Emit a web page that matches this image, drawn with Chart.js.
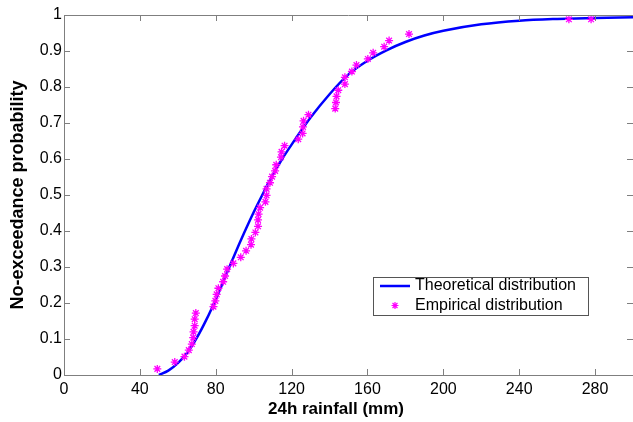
<!DOCTYPE html>
<html>
<head>
<meta charset="utf-8">
<script src="https://cdn.jsdelivr.net/npm/chart.js@4/dist/chart.umd.min.js"></script>
<style>
  html, body { margin: 0; padding: 0; background: #fff; }
</style>
</head>
<body>
<canvas id="cdf_chart" width="633" height="422"></canvas>
<script>
// fitted curve
const theory_x = [50, 55, 60, 65, 70, 75, 80, 85, 90, 95, 100, 105, 110, 115, 120, 130, 140, 150, 160, 170, 180, 190, 200, 220, 240, 260, 280, 300];
const theory_y = [0, 0.012, 0.033, 0.062, 0.103, 0.153, 0.21, 0.272, 0.335, 0.395, 0.452, 0.505, 0.555, 0.6, 0.64, 0.715, 0.78, 0.835, 0.873, 0.902, 0.925, 0.943, 0.956, 0.974, 0.984, 0.989, 0.992, 0.994];

// observed 24h maxima and their plotting positions
const empirical_x = [49.2, 58.4, 63.5, 65.8, 67.4, 68.1, 68.3, 68.9, 68.9, 69.5,
  78.8, 79.8, 80.5, 81.4, 83.9, 84.9, 86.0, 89.3, 93.2, 96.0,
  98.6, 98.8, 100.9, 102.3, 102.3, 102.6, 103.4, 106.2, 106.8, 106.8,
  108.6, 109.7, 111.3, 111.9, 114.4, 114.7, 116.3, 123.5, 125.8, 126.0,
  126.3, 128.9, 143.0, 143.4, 143.7, 144.6, 148.1, 148.1, 151.8, 154.2,
  160.2, 163.0, 168.8, 171.4, 181.9, 266.2, 277.9];
const empirical_y = [0.017, 0.036, 0.051, 0.069, 0.086, 0.104, 0.120, 0.137, 0.155, 0.172,
  0.190, 0.206, 0.224, 0.241, 0.259, 0.275, 0.294, 0.310, 0.327, 0.345,
  0.362, 0.378, 0.396, 0.413, 0.431, 0.447, 0.465, 0.481, 0.499, 0.517,
  0.534, 0.551, 0.567, 0.584, 0.605, 0.620, 0.637, 0.655, 0.671, 0.689,
  0.706, 0.723, 0.740, 0.757, 0.774, 0.791, 0.808, 0.827, 0.843, 0.861,
  0.878, 0.895, 0.912, 0.929, 0.947, 0.988, 0.988];

const x_ticks = [0, 40, 80, 120, 160, 200, 240, 280];
const y_ticks = [0, 0.1, 0.2, 0.3, 0.4, 0.5, 0.6, 0.7, 0.8, 0.9, 1];
const x_title = '24h rainfall (mm)';

const FONT = 'Liberation Sans, Arial, sans-serif';
const AXIS_GREY = '#7f7f7f';

// matlab style box: inward ticks on all four sides, x label, legend box
const matlabBox = {
  id: 'matlabBox',
  afterDatasetsDraw(chart) {
    const ctx = chart.ctx;
    const area = chart.chartArea;
    const xs = chart.scales.x, ys = chart.scales.y;
    const right = xs.getPixelForValue(300);
    ctx.save();
    ctx.strokeStyle = AXIS_GREY;
    ctx.lineWidth = 1;
    ctx.beginPath();
    ctx.moveTo(area.left, area.top + 0.5);
    ctx.lineTo(area.right, area.top + 0.5);
    x_ticks.forEach(v => {
      const px = Math.round(xs.getPixelForValue(v)) + 0.5;
      ctx.moveTo(px, area.bottom);
      ctx.lineTo(px, area.bottom - 6);
      ctx.moveTo(px, area.top);
      ctx.lineTo(px, area.top + 6);
    });
    y_ticks.forEach(v => {
      const py = Math.round(ys.getPixelForValue(v)) + 0.5;
      ctx.moveTo(area.left, py);
      ctx.lineTo(area.left + 6, py);
      ctx.moveTo(right, py);
      ctx.lineTo(right - 6, py);
    });
    ctx.stroke();

    // x label (sits a bit left of centre in the original)
    ctx.fillStyle = '#000';
    ctx.font = 'bold 17px ' + FONT;
    ctx.textAlign = 'center';
    ctx.textBaseline = 'middle';
    ctx.fillText(x_title, 336, 409);

    // legend
    const lx = 373.5, ly = 277.5, lw = 215, lh = 38;
    ctx.fillStyle = '#fff';
    ctx.fillRect(lx, ly, lw, lh);
    ctx.strokeStyle = '#555';
    ctx.strokeRect(lx, ly, lw, lh);
    const ds = chart.data.datasets;
    ctx.strokeStyle = ds[0].borderColor;
    ctx.lineWidth = ds[0].borderWidth;
    ctx.beginPath();
    ctx.moveTo(380, 286);
    ctx.lineTo(410, 286);
    ctx.stroke();
    ctx.strokeStyle = ds[1].borderColor;
    ctx.fillStyle = ds[1].borderColor;
    ctx.lineWidth = 1.2;
    Chart.helpers.drawPoint(ctx, { pointStyle: 'star', radius: 3.5, borderWidth: 1.2 }, 395, 305.5);
    ctx.fillStyle = '#000';
    ctx.font = '16px ' + FONT;
    ctx.textAlign = 'left';
    ctx.fillText(ds[0].label, 415, 286);
    ctx.fillText(ds[1].label, 415, 305.5);
    ctx.restore();
  }
};

const cdf_chart = document.getElementById('cdf_chart');

new Chart(cdf_chart, {
  type: 'line',
  data: {
    datasets: [{
      label: 'Theoretical distribution',
      data: theory_x.map((x, i) => ({ x: x, y: theory_y[i] })),
      borderColor: '#0000ff',
      borderWidth: 2.5,
      pointRadius: 0,
      fill: false,
      cubicInterpolationMode: 'monotone',
      order: 1
    }, {
      label: 'Empirical distribution',
      data: empirical_x.map((x, i) => ({ x: x, y: empirical_y[i] })),
      showLine: false,
      pointStyle: 'star',
      pointRadius: 4,
      borderWidth: 1.3,
      borderColor: '#ff00ff',
      backgroundColor: '#ff00ff',
      order: 0
    }]
  },
  options: {
    responsive: false,
    animation: false,
    devicePixelRatio: 1,
    layout: { autoPadding: false, padding: { top: 15, right: 0, left: 0, bottom: 0 } },
    plugins: {
      legend: { display: false },
      tooltip: { enabled: false }
    },
    scales: {
      x: {
        type: 'linear',
        min: 0,
        max: 300,
        afterBuildTicks: s => { s.ticks = x_ticks.map(v => ({ value: v })); },
        afterFit: s => { s.height = 47; s.paddingRight = 0; },
        grid: { display: false, drawTicks: false },
        border: { display: true, color: AXIS_GREY, width: 1 },
        ticks: {
          color: '#000',
          padding: 5,
          maxRotation: 0,
          autoSkip: false,
          font: { family: FONT, size: 16 }
        }
      },
      y: {
        min: 0,
        max: 1,
        afterBuildTicks: s => { s.ticks = y_ticks.map(v => ({ value: v })); },
        afterFit: s => { s.width = 64; },
        grid: { display: false, drawTicks: false },
        border: { display: true, color: AXIS_GREY, width: 1 },
        ticks: {
          color: '#000',
          padding: 2,
          autoSkip: false,
          font: { family: FONT, size: 16 },
          callback: v => (v === 0 || v === 1) ? String(v) : v.toFixed(1)
        },
        title: {
          display: true,
          text: 'No-exceedance probability',
          color: '#000',
          font: { family: FONT, size: 18, weight: 'bold' },
          padding: { top: 7, bottom: 0 }
        }
      }
    }
  },
  plugins: [matlabBox]
});
</script>
</body>
</html>
